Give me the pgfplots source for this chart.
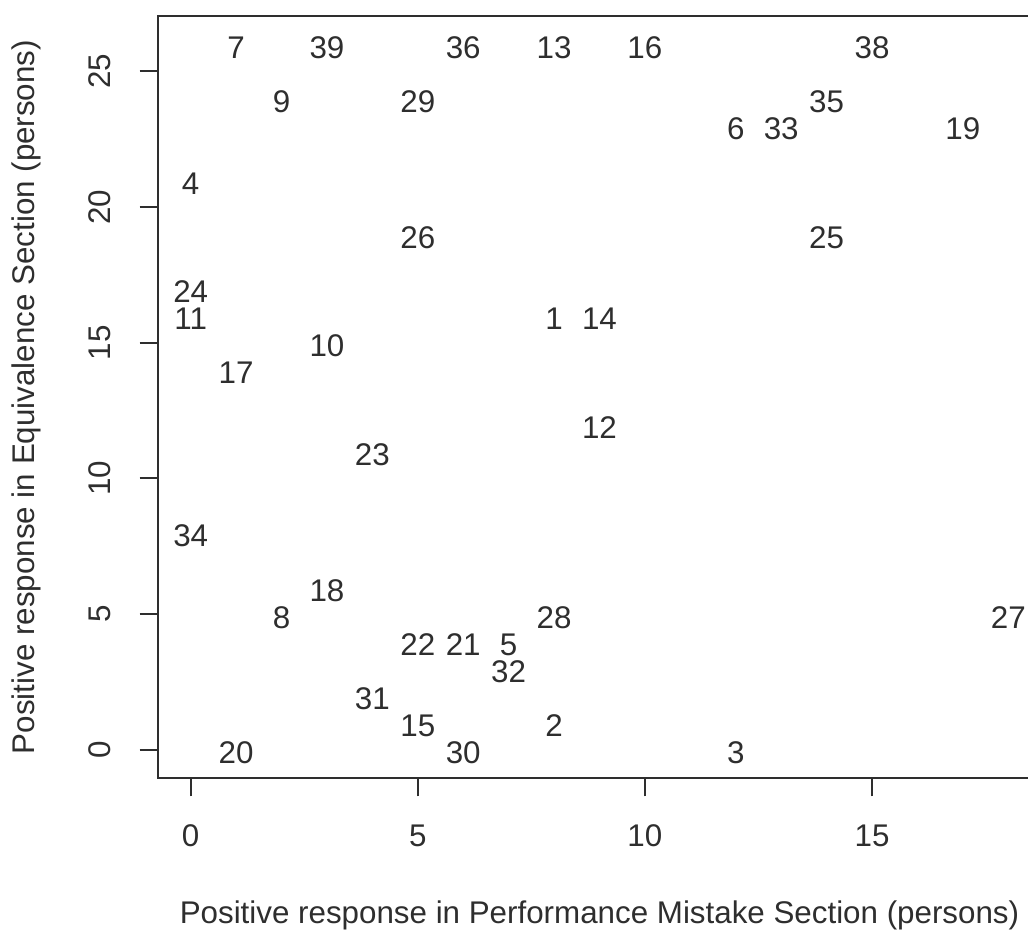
\documentclass[border=0pt]{standalone}
\usepackage{fontspec}
\setmainfont{Liberation Sans}
\usepackage{pgfplots}
\usepackage{pgfplotstable}
\pgfplotsset{compat=1.18}

% respondent id with its counts in the two sections
\pgfplotstableread{
x  y  id
8  16 1
8  1  2
12 0  3
0  21 4
7  4  5
12 23 6
1  26 7
2  5  8
2  24 9
3  15 10
0  16 11
9  12 12
8  26 13
9  16 14
5  1  15
10 26 16
1  14 17
3  6  18
17 23 19
1  0  20
6  4  21
5  4  22
4  11 23
0  17 24
14 19 25
5  19 26
18 5  27
8  5  28
5  24 29
6  0  30
4  2  31
7  3  32
13 23 33
0  8  34
14 24 35
6  26 36
15 26 38
3  26 39
}\pairs

\definecolor{ink}{gray}{0.18}
\newcommand\chartfont{\fontsize{9.4}{11}\selectfont}

\begin{document}
\begin{tikzpicture}
\begin{axis}[
  at={(0,0)}, anchor=south west,
  scale only axis, width=264.9pt, height=228.6pt,
  xmin=-0.72, xmax=18.72, ymin=-1.04, ymax=27.04,
  xtick={0,5,10,15}, ytick={0,5,10,15,20,25},
  tick align=outside, xtick pos=bottom, ytick pos=left,
  major tick length=5.5pt,
  axis line style={line width=0.6pt, ink},
  every tick/.style={line width=0.6pt, ink},
  font=\chartfont,
  /pgf/number format/assume math mode=true,
  tick label style={ink},
  xticklabel shift=5pt,
  yticklabel shift=5pt,
  yticklabel style={rotate=90, anchor=south},
  xlabel={Positive response in Performance Mistake Section (persons)},
  ylabel={Positive response in Equivalence Section (persons)},
  every axis x label/.style={at={(rel axis cs:0.5,0)}, anchor=base, yshift=-43.8pt, ink},
  every axis y label/.style={at={(rel axis cs:0,0.5)}, xshift=-36.9pt, rotate=90, anchor=base, ink},
]
\addplot[draw=none, mark=none, nodes near coords, point meta=explicit symbolic,
  every node near coord/.append style={anchor=center, inner sep=0pt, yshift=-1pt, ink,
    font=\chartfont}]
  table[x=x, y=y, meta=id]{\pairs};
\end{axis}
\pgfresetboundingbox
\path (-47.4pt,-46.8pt) rectangle (261pt,233.4pt);
\end{tikzpicture}
\end{document}
